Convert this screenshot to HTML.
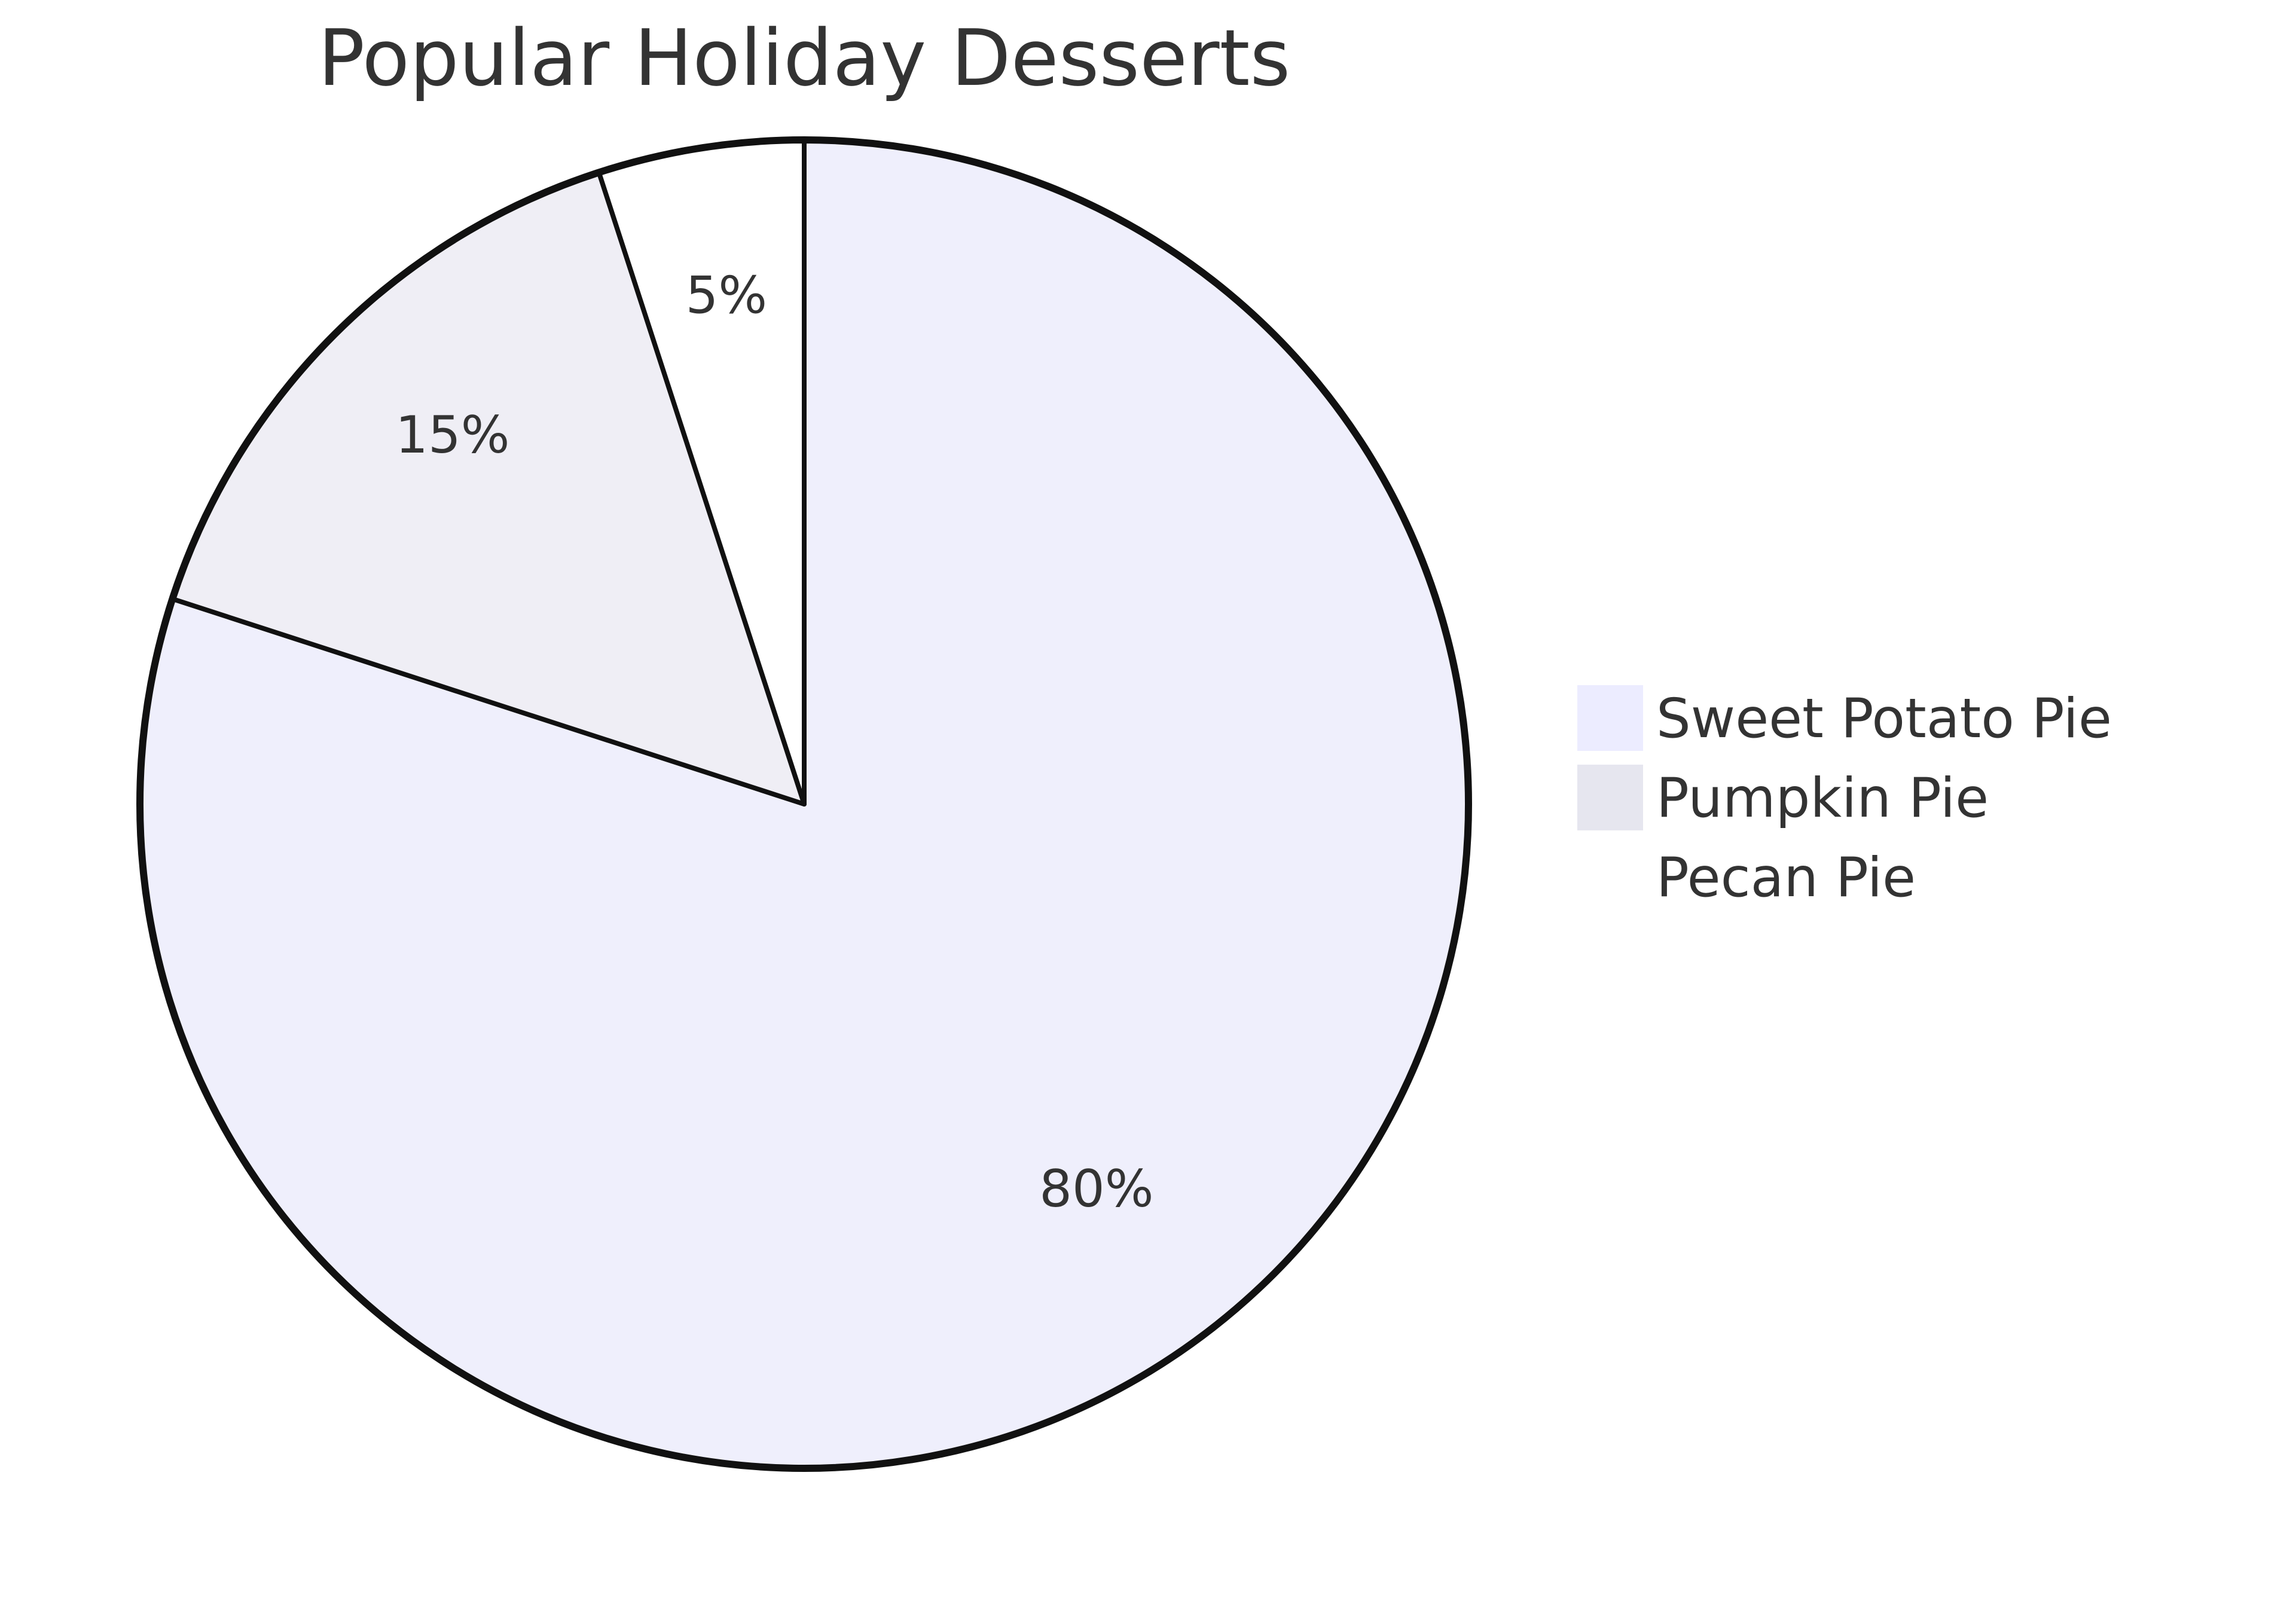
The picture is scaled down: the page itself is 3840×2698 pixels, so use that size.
<!DOCTYPE html>
<html><head><meta charset="utf-8"><style>
html,body{margin:0;padding:0;background:#fff;width:3840px;height:2698px;overflow:hidden}
svg text{font-family:"DejaVu Sans","Liberation Sans",sans-serif;fill:#333}
</style></head><body>
<svg id="chart" width="3840" height="2698" viewBox="0 0 3840 2698" xmlns="http://www.w3.org/2000/svg">
<text x="1345" y="142" font-size="130" text-anchor="middle">Popular Holiday Desserts</text>
<g id="slices"></g>
<circle cx="1345" cy="1345" r="1112" fill="none" stroke="#111" stroke-width="10"/>
<g id="legend"></g>
</svg>
<script>
const labels = ["Sweet Potato Pie", "Pumpkin Pie", "Pecan Pie"];
const values = [80, 15, 5];
const colors = ["#efeffc", "#efeef5", "#ffffff"];
const legendColors = ["#ececff", "#e6e6ef", "#ffffff"];

const NS = "http://www.w3.org/2000/svg";
const cx = 1345, cy = 1345, R = 1109;
const total = values.reduce((a, b) => a + b, 0);
const slicesG = document.getElementById('slices');
const legendG = document.getElementById('legend');
function pt(angle, r) { return [cx + r * Math.sin(angle), cy - r * Math.cos(angle)]; }
let a0 = 0;
values.forEach((v, i) => {
  const a1 = a0 + v / total * 2 * Math.PI;
  const [x0, y0] = pt(a0, R), [x1, y1] = pt(a1, R);
  const large = (a1 - a0) > Math.PI ? 1 : 0;
  const p = document.createElementNS(NS, 'path');
  p.setAttribute('d', `M${cx},${cy} L${x0},${y0} A${R},${R} 0 ${large} 1 ${x1},${y1} Z`);
  p.setAttribute('fill', colors[i]);
  p.setAttribute('stroke', '#111');
  p.setAttribute('stroke-width', '8');
  p.setAttribute('stroke-linejoin', 'round');
  
  
  slicesG.appendChild(p);
  const mid = (a0 + a1) / 2;
  const [tx, ty] = pt(mid, R * 0.75);
  const t = document.createElementNS(NS, 'text');
  t.setAttribute('x', tx); t.setAttribute('y', ty);
  t.setAttribute('font-size', '86');
  t.setAttribute('text-anchor', 'middle');
  t.textContent = Math.round(v / total * 100) + '%';
  
  
  slicesG.appendChild(t);
  a0 = a1;
});
labels.forEach((l, i) => {
  const y = 1146 + i * 133;
  const r = document.createElementNS(NS, 'rect');
  r.setAttribute('x', 2638); r.setAttribute('y', y);
  r.setAttribute('width', 110); r.setAttribute('height', 110);
  r.setAttribute('fill', legendColors[i]);
  
  
  legendG.appendChild(r);
  const t = document.createElementNS(NS, 'text');
  t.setAttribute('x', 2770); t.setAttribute('y', y + 87);
  t.setAttribute('font-size', '91');
  t.textContent = l;
  
  
  legendG.appendChild(t);
});
</script>
</body></html>
